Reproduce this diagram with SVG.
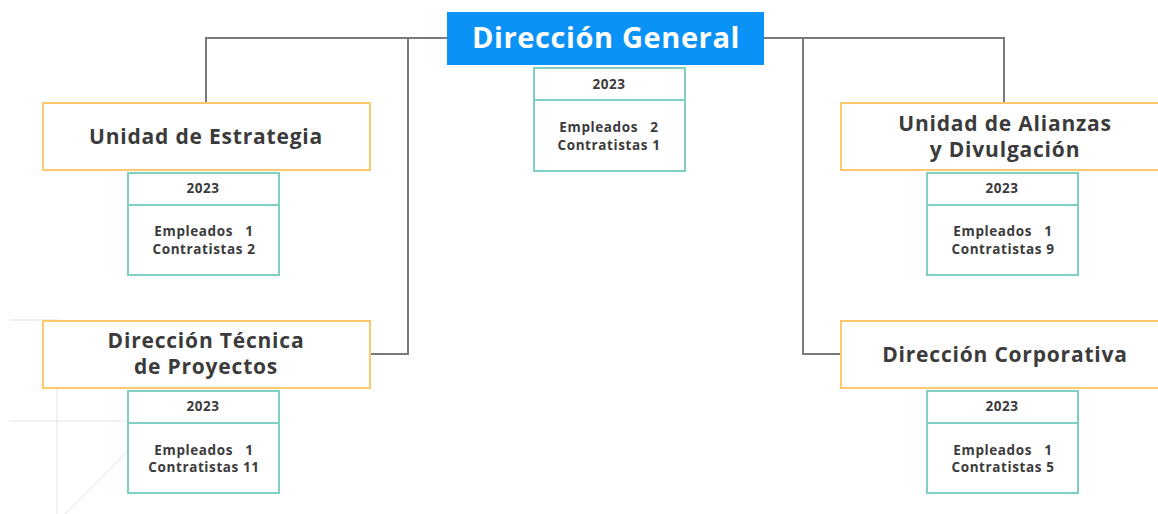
<svg xmlns="http://www.w3.org/2000/svg" width="1158" height="514" viewBox="0 0 1158 514">
<style>
.bg{fill:#fff}
.deco{stroke:#ececec;stroke-width:1.5;fill:none}
.conn{stroke:#7a7a7a;stroke-width:2;fill:none}
.unit{fill:#fff;stroke:#fdc96c;stroke-width:2}
.tbl{fill:#fff;stroke:#7fcfc4;stroke-width:2}
.sep{stroke:#7fcfc4;stroke-width:2}
.t{font-family:"Open Sans","Liberation Sans",sans-serif;font-weight:700;fill:#3b3b3b;text-anchor:middle;white-space:pre}
.title{font-size:21px;letter-spacing:0.8px}
.yr{font-size:13.5px;letter-spacing:0.5px}
.body{font-size:13.5px;letter-spacing:0.6px}
.main{font-family:"Open Sans","Liberation Sans",sans-serif;font-weight:700;font-size:29px;letter-spacing:0.6px;fill:#fff;text-anchor:middle}
</style>
<rect class="bg" x="0" y="0" width="1158" height="514"/>
<g id="decor">
<line class="deco" x1="9" y1="320" x2="60" y2="320"/>
<line class="deco" x1="57" y1="320" x2="57" y2="514"/>
<line class="deco" x1="9" y1="421" x2="158" y2="421"/>
<line class="deco" x1="158" y1="421" x2="65" y2="514"/>
</g>
<g id="connectors">
<polyline class="conn" points="447,38 206,38 206,103"/>
<polyline class="conn" points="408,38 408,354 370,354"/>
<polyline class="conn" points="764,38 1004,38 1004,103"/>
<polyline class="conn" points="803,38 803,354 841,354"/>
</g>
<g id="direccion-general">
<rect x="447" y="12" width="317" height="53" fill="#0a92f6"/>
<text class="main" x="606" y="48">Dirección General</text>
<rect class="tbl" x="534" y="68" width="151" height="103"/>
<line class="sep" x1="534" y1="100" x2="685" y2="100"/>
<text class="t yr" x="609" y="89">2023</text>
<text class="t body" x="609" y="132" xml:space="preserve">Empleados   2</text>
<text class="t body" x="609" y="150">Contratistas 1</text>
</g>
<g id="unidad-estrategia">
<rect class="unit" x="43" y="103" width="327" height="67"/>
<text class="t title" x="206" y="144">Unidad de Estrategia</text>
<rect class="tbl" x="128" y="173" width="151" height="102"/>
<line class="sep" x1="128" y1="205" x2="279" y2="205"/>
<text class="t yr" x="203" y="193">2023</text>
<text class="t body" x="204" y="236" xml:space="preserve">Empleados   1</text>
<text class="t body" x="204" y="254">Contratistas 2</text>
</g>
<g id="direccion-tecnica">
<rect class="unit" x="43" y="321" width="327" height="67"/>
<text class="t title" x="206" y="348">Dirección Técnica</text>
<text class="t title" x="206" y="374">de Proyectos</text>
<rect class="tbl" x="128" y="391" width="151" height="102"/>
<line class="sep" x1="128" y1="423" x2="279" y2="423"/>
<text class="t yr" x="203" y="411">2023</text>
<text class="t body" x="204" y="455" xml:space="preserve">Empleados   1</text>
<text class="t body" x="204" y="472">Contratistas 11</text>
</g>
<g id="unidad-alianzas">
<rect class="unit" x="841" y="103" width="327" height="67"/>
<text class="t title" x="1005" y="131">Unidad de Alianzas</text>
<text class="t title" x="1005" y="157">y Divulgación</text>
<rect class="tbl" x="927" y="173" width="151" height="102"/>
<line class="sep" x1="927" y1="205" x2="1078" y2="205"/>
<text class="t yr" x="1002" y="193">2023</text>
<text class="t body" x="1003" y="236" xml:space="preserve">Empleados   1</text>
<text class="t body" x="1003" y="254">Contratistas 9</text>
</g>
<g id="direccion-corporativa">
<rect class="unit" x="841" y="321" width="327" height="67"/>
<text class="t title" x="1005" y="362">Dirección Corporativa</text>
<rect class="tbl" x="927" y="391" width="151" height="102"/>
<line class="sep" x1="927" y1="423" x2="1078" y2="423"/>
<text class="t yr" x="1002" y="411">2023</text>
<text class="t body" x="1003" y="455" xml:space="preserve">Empleados   1</text>
<text class="t body" x="1003" y="472">Contratistas 5</text>
</g>
</svg>
